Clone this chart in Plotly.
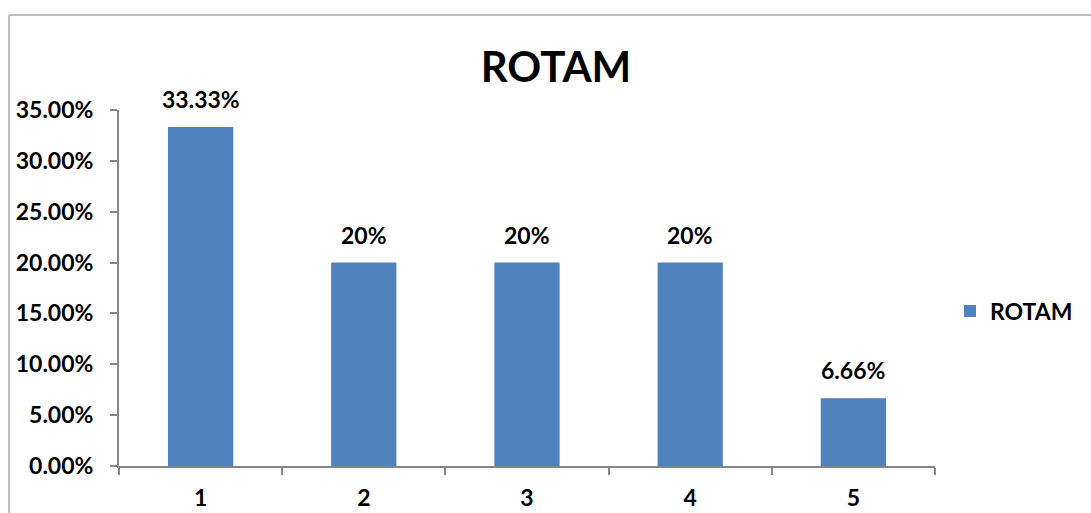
import plotly.graph_objects as go

# Chart data
categories = ["1", "2", "3", "4", "5"]
rotam_pct = [33.33, 20, 20, 20, 6.66]
y_ticks = [0, 5, 10, 15, 20, 25, 30, 35]
series_name = "ROTAM"
chart_title = "ROTAM"

W, H = 1091, 513
# plot area in pixels
L, R, T, B = 119, 935, 110, 466

BAR_COLOR = "#4F81BD"
AXIS_COLOR = "#868686"
FONT = "Lato"
LABEL_SIZE = 23


def px_x(px):
    return (px - L) / (R - L)


def px_y(py):
    return (B - py) / (B - T)


labels = [f"{v:g}%" for v in rotam_pct]

fig = go.Figure()
fig.add_trace(go.Bar(
    x=categories,
    y=rotam_pct,
    name=series_name,
    marker=dict(color=BAR_COLOR, line=dict(width=0)),
    width=0.4,
    showlegend=True,
))

# value labels above each bar (x given as category index)
for i, (v, t) in enumerate(zip(rotam_pct, labels)):
    fig.add_annotation(
        x=i, y=v, text=f"<b>{t}</b>", showarrow=False,
        yanchor="bottom", yshift=12,
        font=dict(family=FONT, size=LABEL_SIZE, color="#000000"),
    )

# chart-area border (top and left edges)
border = dict(color="#BFBFBF", width=2)
fig.add_shape(type="line", xref="paper", yref="paper",
              x0=px_x(9), x1=px_x(W + 5), y0=px_y(15), y1=px_y(15), line=border)
fig.add_shape(type="line", xref="paper", yref="paper",
              x0=px_x(9), x1=px_x(9), y0=px_y(15), y1=px_y(H + 5), line=border)

fig.update_layout(
    width=W, height=H,
    margin=dict(l=L, r=W - R, t=T, b=H - B, pad=0, autoexpand=False),
    paper_bgcolor="white", plot_bgcolor="white",
    title=dict(
        text=f"<b>{chart_title}</b>",
        x=556 / W, xanchor="center", xref="container",
        y=1 - 67 / H, yanchor="middle", yref="container",
        font=dict(family=FONT, size=42, color="#000000"),
    ),
    legend=dict(
        x=px_x(950), xanchor="left",
        y=px_y(311), yanchor="middle",
        font=dict(family=FONT, size=LABEL_SIZE, color="#000000", weight="bold"),
        bgcolor="rgba(0,0,0,0)",
    ),
    bargap=0.6,
)

fig.update_xaxes(
    type="category",
    range=[-0.5, 4.5],
    automargin=False,
    showline=True, linecolor=AXIS_COLOR, linewidth=2,
    ticks="outside", tickson="boundaries", ticklen=7, tickcolor=AXIS_COLOR, tickwidth=2,
    showgrid=False, zeroline=False,
    ticklabelstandoff=10,
    tickfont=dict(family=FONT, size=LABEL_SIZE, color="#000000", weight="bold"),
)

fig.update_yaxes(
    range=[0, 35],
    automargin=False,
    tickvals=y_ticks,
    ticktext=[f"{v:.2f}%" for v in y_ticks],
    showline=True, linecolor=AXIS_COLOR, linewidth=2,
    ticks="outside", ticklen=7, tickcolor=AXIS_COLOR, tickwidth=2,
    showgrid=False, zeroline=False,
    ticklabelstandoff=12,
    tickfont=dict(family=FONT, size=LABEL_SIZE, color="#000000", weight="bold"),
)

fig.write_html("out.html")
